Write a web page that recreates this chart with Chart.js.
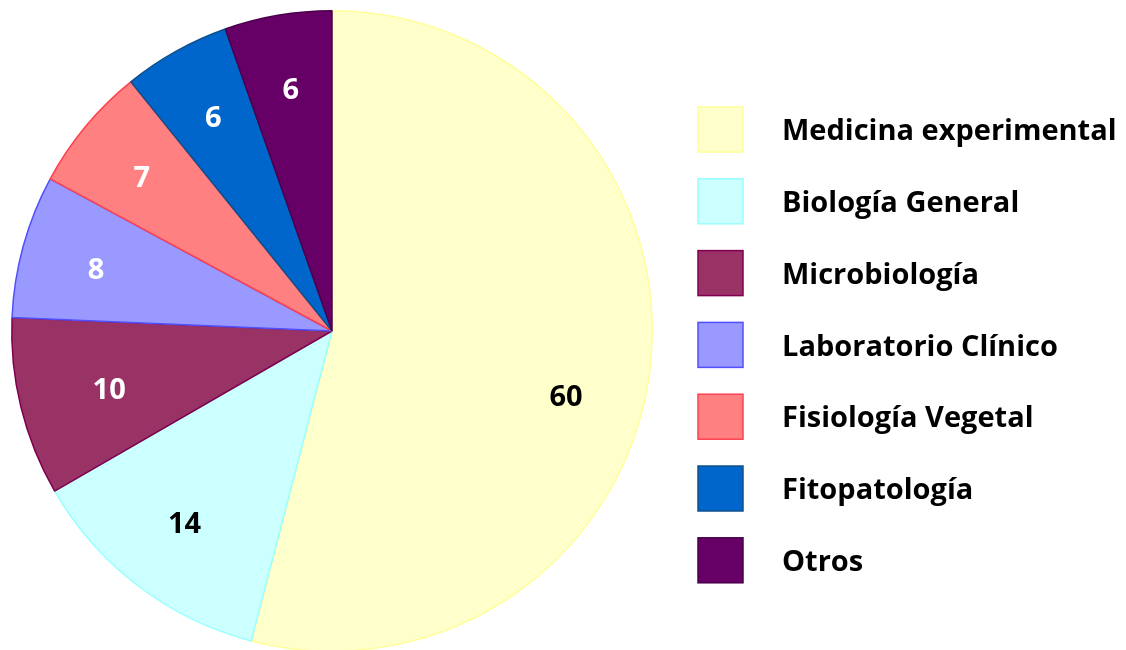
<!DOCTYPE html>
<html>
<head>
<meta charset="utf-8">
<script src="https://cdn.jsdelivr.net/npm/chart.js@4"></script>
<style>
  html, body { margin: 0; padding: 0; background: #fff; overflow: hidden; }
</style>
</head>
<body>
<canvas id="pie" width="1126" height="662"></canvas>
<script>
// data
const areas = ['Medicina experimental', 'Biología General', 'Microbiología', 'Laboratorio Clínico', 'Fisiología Vegetal', 'Fitopatología', 'Otros'];
const counts = [60, 14, 10, 8, 7, 6, 6];
const fillColors = ['#FFFFCC', '#CCFFFF', '#993366', '#9999FF', '#FF8080', '#0066CC', '#660066'];
const edgeColors = ['#FFFF99', '#99FFFF', '#800050', '#5050FF', '#FF4050', '#10508A', '#4A004A'];
const labelColors = ['#000', '#000', '#fff', '#fff', '#fff', '#fff', '#fff'];

// draws the numbers inside the slices
const sliceLabels = {
  id: 'sliceLabels',
  afterDatasetsDraw(chart) {
    const ctx = chart.ctx;
    const meta = chart.getDatasetMeta(0);
    const shift = [0.15, 0, -0.02, -0.02, -0.02, 0, 0]; // radians, the big slice label sits a bit lower
    ctx.save();
    ctx.font = 'bold 29px "Open Sans"';
    ctx.textAlign = 'center';
    ctx.textBaseline = 'middle';
    meta.data.forEach((arc, i) => {
      const p = arc.getProps(['x', 'y', 'startAngle', 'endAngle', 'outerRadius'], true);
      const a = (p.startAngle + p.endAngle) / 2 + shift[i];
      const r = p.outerRadius * (i === 2 ? 0.72 : 0.76);
      ctx.fillStyle = labelColors[i];
      ctx.fillText(counts[i], p.x + Math.cos(a) * r, p.y + Math.sin(a) * r);
    });
    ctx.restore();
  }
};

// legend on the right
const sideLegend = {
  id: 'sideLegend',
  afterDraw(chart) {
    const ctx = chart.ctx;
    ctx.save();
    ctx.font = 'bold 29px "Open Sans"';
    ctx.textBaseline = 'middle';
    areas.forEach((name, i) => {
      const y = 107 + i * 71.8;
      ctx.fillStyle = fillColors[i];
      ctx.fillRect(698, y, 45, 45);
      ctx.strokeStyle = edgeColors[i];
      ctx.lineWidth = 1.5;
      ctx.strokeRect(698, y, 45, 45);
      ctx.fillStyle = '#000';
      ctx.fillText(name, 782, y + 25);
    });
    ctx.restore();
  }
};

new Chart(document.getElementById('pie'), {
  type: 'pie',
  data: {
    labels: areas,
    datasets: [{
      data: counts,
      backgroundColor: fillColors,
      borderColor: edgeColors,
      borderWidth: 1.5
    }]
  },
  options: {
    responsive: false,
    animation: false,
    layout: { padding: { left: 11, top: 10, right: 473, bottom: 10 } },
    plugins: {
      legend: { display: false },
      tooltip: { enabled: false }
    }
  },
  plugins: [sliceLabels, sideLegend]
});
</script>
</body>
</html>
